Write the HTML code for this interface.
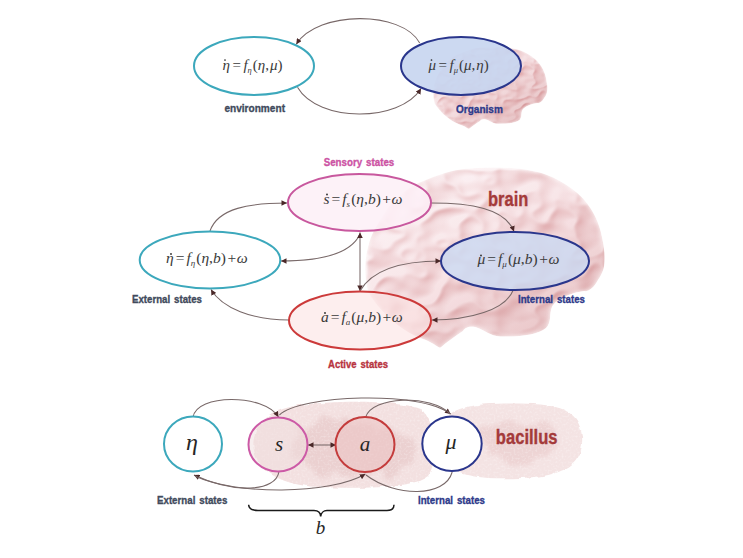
<!DOCTYPE html>
<html><head><meta charset="utf-8">
<style>
html,body{margin:0;padding:0;background:#fff;}
body{width:743px;height:558px;overflow:hidden;position:relative;}
svg{position:absolute;left:0;top:0;}
.eq{font-family:"Liberation Serif",serif;font-size:16px;fill:#3a3a3a;}
.it{font-style:italic;}
.lbl{font-family:"Liberation Sans",sans-serif;font-weight:bold;font-size:11.5px;word-spacing:1.5px;stroke-width:0.35px;}
</style></head>
<body>
<svg width="743" height="558" viewBox="0 0 743 558">
<defs>
  <marker id="ah" viewBox="0 0 10 10" refX="10" refY="5" markerWidth="6" markerHeight="5.5" orient="auto-start-reverse" markerUnits="userSpaceOnUse">
    <path d="M0,0 L10,5 L0,10 z" fill="#4a2828"/>
  </marker>
  <filter id="soft" x="-10%" y="-10%" width="120%" height="120%">
    <feGaussianBlur stdDeviation="2.6"/>
  </filter>
  <filter id="soft1" x="-10%" y="-10%" width="120%" height="120%">
    <feGaussianBlur stdDeviation="1.2"/>
  </filter>
  <filter id="blob" x="-20%" y="-20%" width="140%" height="140%">
    <feGaussianBlur stdDeviation="5"/>
  </filter>
  <path id="brainshape" d="M368,292 C363,270 364,245 379,222 C390,200 408,186 426,180 C445,172 458,169 470,168.5 C500,166 528,168 547,175 C565,182 582,194 591,209 C598,220 602,232 604,249 C606,262 604,272 598,280 C594,288 588,292 584,291 C570,293 555,300 552,307 C549,314 552,322 546,328 C538,335 520,337 500,336.5 C490,336 485,330 475,327 C468,326 465,328 463,331 C455,336 447,342 440,348 C435,345 428,340 420,338 C400,330 380,312 368,292 Z"/>
    <filter id="emb" x="0" y="0" width="100%" height="100%" color-interpolation-filters="sRGB">
    <feTurbulence type="fractalNoise" baseFrequency="0.026 0.036" numOctaves="2" seed="11" result="t"/>
    <feComponentTransfer in="t" result="band">
      <feFuncA type="table" tableValues="0 0.1 0.3 0.6 1 0.6 0.3 0.1 0"/>
    </feComponentTransfer>
    <feGaussianBlur in="band" stdDeviation="1.6" result="bb"/>
    <feDiffuseLighting in="bb" surfaceScale="2.3" diffuseConstant="1.1" lighting-color="#fff" result="lit">
      <feDistantLight azimuth="225" elevation="55"/>
    </feDiffuseLighting>
    <feColorMatrix in="lit" type="matrix" values="0.2 0 0 0 0.79  0 0.5 0 0 0.45  0 0.5 0 0 0.46  0 0 0 0 1" result="col"/>
    <feBlend in="col" in2="SourceGraphic" mode="multiply" result="m"/>
    <feComposite in="m" in2="SourceAlpha" operator="in"/>
  </filter>
  <filter id="emb2" x="0" y="0" width="100%" height="100%" color-interpolation-filters="sRGB">
    <feTurbulence type="fractalNoise" baseFrequency="0.026 0.036" numOctaves="2" seed="11" result="t"/>
    <feComponentTransfer in="t" result="band">
      <feFuncA type="table" tableValues="0 0.1 0.3 0.6 1 0.6 0.3 0.1 0"/>
    </feComponentTransfer>
    <feGaussianBlur in="band" stdDeviation="1.3" result="bb"/>
    <feDiffuseLighting in="bb" surfaceScale="2.2" diffuseConstant="1.1" lighting-color="#fff" result="lit">
      <feDistantLight azimuth="225" elevation="55"/>
    </feDiffuseLighting>
    <feColorMatrix in="lit" type="matrix" values="0.2 0 0 0 0.78  0 0.55 0 0 0.38  0 0.55 0 0 0.39  0 0 0 0 1" result="col"/>
    <feBlend in="col" in2="SourceGraphic" mode="multiply" result="m"/>
    <feComposite in="m" in2="SourceAlpha" operator="in"/>
  </filter>
  <mask id="bm"><use href="#brainshape" fill="#fff" filter="url(#soft)"/></mask>
  <linearGradient id="bg2" gradientUnits="userSpaceOnUse" x1="420" y1="180" x2="520" y2="345"><stop offset="0" stop-color="#ffffff"/><stop offset="0.5" stop-color="#faf0f0"/><stop offset="1" stop-color="#ecd2d2"/></linearGradient>
  <g id="brain">
    <g mask="url(#bm)"><use href="#brainshape" fill="url(#bg2)" filter="url(#emb)"/></g>
  </g>
</defs>

<!-- ===== TOP SECTION ===== -->
<g transform="translate(259,-29.3) scale(0.477,0.455)">
  <g mask="url(#bm)"><use href="#brainshape" fill="url(#bg2)" filter="url(#emb2)"/></g>
</g>

<g fill="none" stroke="#786868" stroke-width="1.05">
  <path d="M419.7,43 C402,10.3 318,10.3 296.3,44.2" marker-end="url(#ah)"/>
  <path d="M297.5,87.3 C318,122.7 400,122.7 421,88.5" marker-end="url(#ah)"/>
</g>

<ellipse cx="254" cy="66" rx="60" ry="29" fill="#fff" stroke="#3ca8bc" stroke-width="2"/>
<ellipse cx="461" cy="66" rx="60" ry="29" fill="#c6d5ef" fill-opacity="0.9" stroke="#2a368c" stroke-width="2"/>


<text class="eq" style="font-size:15px" x="222.5" y="70.2"><tspan class="it">η</tspan><tspan dx="2.5">=</tspan><tspan class="it" dx="2.5">f</tspan><tspan class="it" font-size="8.5" dy="3">η</tspan><tspan dy="-3" dx="1">(</tspan><tspan class="it">η</tspan>,<tspan class="it" dx="1">μ</tspan>)</text>
<text class="eq" style="font-size:15px" x="428.5" y="70.2"><tspan class="it">μ</tspan><tspan dx="2.5">=</tspan><tspan class="it" dx="2.5">f</tspan><tspan class="it" font-size="8.5" dy="3">μ</tspan><tspan dy="-3" dx="1">(</tspan><tspan class="it">μ</tspan>,<tspan class="it" dx="1">η</tspan>)</text>
<text class="lbl" x="224.4" y="111.5" textLength="60.6" lengthAdjust="spacingAndGlyphs" fill="#414a5c" stroke="#414a5c">environment</text>
<text class="lbl" x="456" y="112.8" textLength="46.8" lengthAdjust="spacingAndGlyphs" fill="#2e3a8a" stroke="#2e3a8a">Organism</text>

<!-- ===== MIDDLE SECTION ===== -->
<use href="#brain"/>
<text class="lbl" x="488" y="206" textLength="40.3" lengthAdjust="spacingAndGlyphs" fill="#a43a3a" style="font-size:20.5px" stroke="#a43a3a">brain</text>

<g fill="none" stroke="#786868" stroke-width="1.05">
  <path d="M210,231 C218,208 250,203 287,203" marker-end="url(#ah)"/>
  <path d="M360,234 C352,252 325,261 281,261" marker-end="url(#ah)"/>
  <path d="M360,232.5 L360,291" marker-start="url(#ah)" marker-end="url(#ah)"/>
  <path d="M289,320 C252,320 222,308 211,289.5" marker-end="url(#ah)"/>
  <path d="M431,203 C470,203 505,208 514,231.5" marker-end="url(#ah)"/>
  <path d="M360,291 C372,270 400,261 441,261" marker-end="url(#ah)"/>
  <path d="M513,290.5 C505,310 470,320 432,320" marker-end="url(#ah)"/>
</g>

<ellipse cx="210" cy="260" rx="70.3" ry="28.5" fill="#fff" stroke="#3ca8bc" stroke-width="2"/>
<ellipse cx="359.5" cy="202.5" rx="71.5" ry="28.5" fill="#fdf0f7" fill-opacity="0.85" stroke="#c8589e" stroke-width="2"/>
<ellipse cx="360" cy="320.5" rx="71" ry="29" fill="#fbe4e4" fill-opacity="0.62" stroke="#cc3a3a" stroke-width="2"/>
<ellipse cx="515" cy="261" rx="74" ry="29" fill="#cbdaf2" fill-opacity="0.8" stroke="#2a368c" stroke-width="2"/>


<text class="eq" x="166" y="262.6" style="font-size:15.5px"><tspan class="it">η</tspan><tspan dx="2">=</tspan><tspan class="it" dx="2">f</tspan><tspan class="it" font-size="9" dy="3">η</tspan><tspan dy="-3" dx="1">(</tspan><tspan class="it">η</tspan>,<tspan class="it">b</tspan>)<tspan dx="1.5">+</tspan><tspan class="it" dx="0.5">ω</tspan></text>
<text class="eq" x="323.5" y="203.8" style="font-size:15.5px"><tspan class="it">s</tspan><tspan dx="2">=</tspan><tspan class="it" dx="2">f</tspan><tspan class="it" font-size="9" dy="3">s</tspan><tspan dy="-3" dx="1">(</tspan><tspan class="it">η</tspan>,<tspan class="it">b</tspan>)<tspan dx="1.5">+</tspan><tspan class="it" dx="0.5">ω</tspan></text>
<text class="eq" x="321" y="322.3" style="font-size:15.5px"><tspan class="it">a</tspan><tspan dx="2">=</tspan><tspan class="it" dx="2">f</tspan><tspan class="it" font-size="9" dy="3">a</tspan><tspan dy="-3" dx="1">(</tspan><tspan class="it">μ</tspan>,<tspan class="it">b</tspan>)<tspan dx="1.5">+</tspan><tspan class="it" dx="0.5">ω</tspan></text>
<text class="eq" x="477.5" y="264.3" style="font-size:15.5px"><tspan class="it">μ</tspan><tspan dx="2">=</tspan><tspan class="it" dx="2">f</tspan><tspan class="it" font-size="9" dy="3">μ</tspan><tspan dy="-3" dx="1">(</tspan><tspan class="it">μ</tspan>,<tspan class="it">b</tspan>)<tspan dx="1.5">+</tspan><tspan class="it" dx="0.5">ω</tspan></text>
<g fill="#2a2a2a">
<circle cx="225" cy="60" r="0.85"/>
<circle cx="431.5" cy="60" r="0.85"/>
<circle cx="171" cy="254" r="0.9"/>
<circle cx="327" cy="194.5" r="0.9"/>
<circle cx="325" cy="313" r="0.9"/>
<circle cx="481" cy="255.5" r="0.9"/>
</g>
<text class="lbl" x="323.7" y="165.5" textLength="70.6" lengthAdjust="spacingAndGlyphs" fill="#d050a8" stroke="#c8589e">Sensory states</text>
<text class="lbl" x="132" y="302.9" textLength="70" lengthAdjust="spacingAndGlyphs" fill="#414a5c" stroke="#414a5c">External states</text>
<text class="lbl" x="518" y="303" textLength="67" lengthAdjust="spacingAndGlyphs" fill="#2e3a8a" stroke="#2e3a8a">Internal states</text>
<text class="lbl" x="328" y="367.5" textLength="60" lengthAdjust="spacingAndGlyphs" fill="#b83440" stroke="#b83440">Active states</text>

<!-- ===== BOTTOM SECTION ===== -->
<defs>
  <filter id="rough" x="-10%" y="-10%" width="120%" height="120%">
    <feTurbulence type="fractalNoise" baseFrequency="0.12" numOctaves="2" seed="2" result="n"/>
    <feDisplacementMap in="SourceGraphic" in2="n" scale="4" xChannelSelector="R" yChannelSelector="G" result="d"/>
    <feGaussianBlur in="d" stdDeviation="0.7"/>
  </filter>
  <filter id="blot" x="-20%" y="-20%" width="140%" height="140%" color-interpolation-filters="sRGB">
    <feTurbulence type="fractalNoise" baseFrequency="0.07" numOctaves="3" seed="9" result="n"/>
    <feDisplacementMap in="SourceGraphic" in2="n" scale="22" xChannelSelector="R" yChannelSelector="G" result="d"/>
    <feGaussianBlur in="d" stdDeviation="2.2"/>
  </filter>
  <filter id="grain" x="0" y="0" width="100%" height="100%" color-interpolation-filters="sRGB">
    <feTurbulence type="fractalNoise" baseFrequency="0.5" numOctaves="1" seed="5" result="t"/>
    <feColorMatrix in="t" type="matrix" values="0 0 0 0 1  0 0 0 0 1  0 0 0 0 1  2.2 0 0 0 -1.0" result="c"/>
    <feComposite in="c" in2="SourceAlpha" operator="in"/>
  </filter>
  <path id="bac1" d="M254,450 C250,428 266,410 300,405 C340,400 395,400 421,409 C438,419 438,462 428,476 C414,488 362,489 318,487 C282,485 258,472 254,450 Z"/>
  <path id="bac2" d="M444,424 C447,406 478,403 520,403.5 C560,404 579,410 582,436 C584,462 568,472 540,476.5 C505,480 468,479 454,470 C444,460 441,436 444,424 Z"/>
</defs>
<g>
  <use href="#bac1" fill="#f3e0e0" filter="url(#rough)"/>
  <use href="#bac2" fill="#f4e3e3" filter="url(#rough)"/>
  <path d="M292,440 C296,420 330,414 350,420 C370,428 395,426 412,438 C422,450 412,468 392,472 C365,476 340,478 318,472 C300,466 290,455 292,440 Z" fill="#e6c6c6" filter="url(#blot)" opacity="0.6"/>
  <path d="M478,430 C490,418 530,418 552,426 C566,438 556,458 530,461 C505,463 482,452 478,430 Z" fill="#e9c8c8" filter="url(#blot)" opacity="0.55"/>
  <g filter="url(#grain)" opacity="0.35">
    <use href="#bac1" fill="#000"/>
    <use href="#bac2" fill="#000"/>
  </g>
</g>

<g fill="none" stroke="#786868" stroke-width="1.05">
  <path d="M193,417.3 C196,393.5 264,393.5 278.5,417" marker-end="url(#ah)"/>
  <path d="M279.4,415 C300,395 420,390 450.5,414" marker-end="url(#ah)"/>
  <path d="M365.5,417.3 C372,396 430,394 450.5,414"/>
  <path d="M279,471.3 C276,492 235,494 194,475" marker-end="url(#ah)"/>
  <path d="M195,476 C235,495 330,495 365.4,474" marker-end="url(#ah)"/>
  <path d="M452.2,472 C445,498 395,497 366,475"/>
  <path d="M308,445 L336,445" marker-start="url(#ah)" marker-end="url(#ah)"/>
</g>

<ellipse cx="193" cy="444" rx="29" ry="27.5" fill="#fff" stroke="#3ca8bc" stroke-width="2"/>
<ellipse cx="278" cy="444.5" rx="29.5" ry="27" fill="#f0dede" fill-opacity="0.5" stroke="#cc5aa6" stroke-width="2"/>
<ellipse cx="365" cy="444.5" rx="29.5" ry="27.5" fill="#ecc4c4" fill-opacity="0.6" stroke="#c43c3c" stroke-width="2"/>
<ellipse cx="452" cy="443.8" rx="29.7" ry="27.2" fill="#fff" stroke="#2a368c" stroke-width="2"/>

<text class="eq it" fill="#262626" x="192" y="449.7" text-anchor="middle" style="font-size:24px;fill:#262626">η</text>
<text class="eq it" fill="#262626" x="279" y="450.5" text-anchor="middle" style="font-size:21px;fill:#262626">s</text>
<text class="eq it" fill="#262626" x="365" y="450.5" text-anchor="middle" style="font-size:21px;fill:#262626">a</text>
<text class="eq it" fill="#262626" x="451" y="449" text-anchor="middle" style="font-size:22px;fill:#262626">μ</text>
<text class="lbl" x="495.8" y="443.8" textLength="61.8" lengthAdjust="spacingAndGlyphs" fill="#a43a3a" style="font-size:19.5px" stroke="#a43a3a">bacillus</text>

<text class="lbl" x="157" y="504" textLength="70.4" lengthAdjust="spacingAndGlyphs" fill="#414a5c" stroke="#414a5c">External states</text>
<text class="lbl" x="418" y="504" textLength="67" lengthAdjust="spacingAndGlyphs" fill="#2e3a8a" stroke="#2e3a8a">Internal states</text>

<path d="M248.6,504.7 C249,509 252,510.5 258,510.5 L314,510.5 C318,510.5 320.5,513 320.7,516.5 C321,513 323.5,510.5 327,510.5 L387,510.5 C392,510.5 394,508 394,504.7" fill="none" stroke="#1a1a1a" stroke-width="1.5"/>
<text class="eq it" x="320.5" y="534" text-anchor="middle" style="font-size:19px;fill:#262626">b</text>
</svg>
</body></html>
